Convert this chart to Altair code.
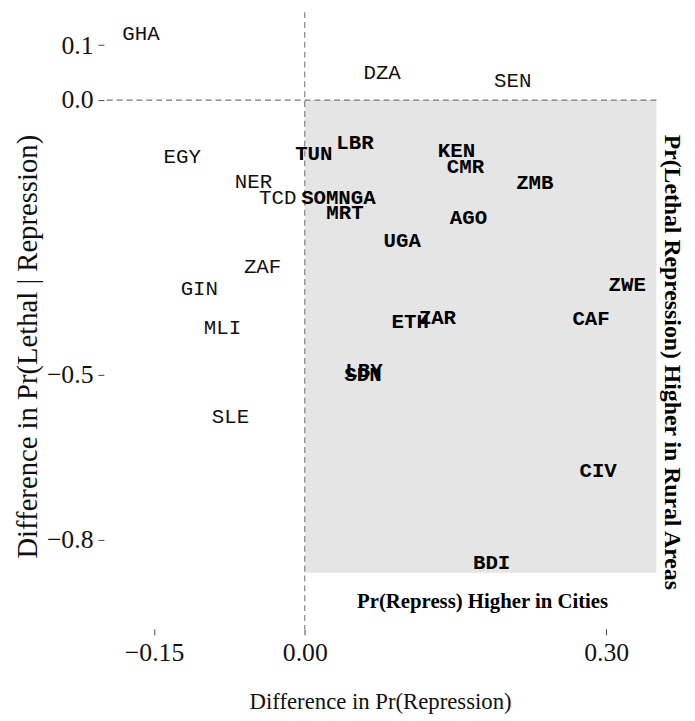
import altair as alt
import pandas as pd

countries = ["GHA", "DZA", "SEN", "EGY", "TUN", "LBR", "KEN", "CMR", "ZMB", "NER",
             "TCD", "SOM", "NGA", "MRT", "AGO", "UGA", "ZAF", "ZWE", "GIN", "ETH",
             "ZAR", "CAF", "MLI", "LBY", "SDN", "SLE", "CIV", "BDI"]
diff_repress = [-0.163, 0.077, 0.207, -0.122, 0.009, 0.050, 0.151, 0.160, 0.229, -0.051,
                -0.027, 0.015, 0.052, 0.040, 0.163, 0.097, -0.042, 0.321, -0.105, 0.105,
                0.132, 0.285, -0.082, 0.059, 0.058, -0.074, 0.292, 0.186]
diff_lethal = [0.120, 0.049, 0.034, -0.104, -0.099, -0.079, -0.092, -0.122, -0.151, -0.149,
               -0.178, -0.178, -0.178, -0.205, -0.214, -0.257, -0.304, -0.336, -0.344, -0.403,
               -0.396, -0.399, -0.414, -0.493, -0.500, -0.576, -0.675, -0.842]

x_ticks = [-0.15, 0.0, 0.30]
y_ticks = [0.1, 0.0, -0.5, -0.8]
x_domain = [-0.2, 0.35]
y_domain = [-0.962, 0.160]

rect_x = [0.0, 0.35]
rect_y = [-0.86, 0.0]

note_bottom = "Pr(Repress) Higher in Cities"
note_bottom_pos = [0.177, -0.914]
note_right = "Pr(Lethal Repression) Higher in Rural Areas"
note_right_pos = [0.365, -0.477]

df = pd.DataFrame({"country": countries, "x": diff_repress, "y": diff_lethal})
df["quad"] = [(a > 0 and b < 0) for a, b in zip(diff_repress, diff_lethal)]

xs = alt.Scale(domain=x_domain, nice=False, zero=False)
ys = alt.Scale(domain=y_domain, nice=False, zero=False)

serif = "Liberation Serif"
mono = "Liberation Mono"

rect = alt.Chart(pd.DataFrame({"x1": [rect_x[0]], "x2": [rect_x[1]],
                               "y1": [rect_y[0]], "y2": [rect_y[1]]})).mark_rect(
    color="#e5e5e5").encode(
    x=alt.X("x1:Q", scale=xs,
            axis=alt.Axis(values=x_ticks, title="Difference in Pr(Repression)",
                          labelExpr="replace(format(datum.value, '.2f'), '-', '–')",
                          grid=False, domain=False, tickSize=6, tickColor="#444",
                          labelFont=serif, labelFontSize=26, labelColor="#111",
                          labelPadding=5, titleFont=serif, titleFontSize=23,
                          titleFontWeight="normal", titleColor="#111", titlePadding=26)),
    x2="x2:Q",
    y=alt.Y("y1:Q", scale=ys,
            axis=alt.Axis(values=y_ticks, title="Difference in Pr(Lethal | Repression)",
                          labelExpr="replace(format(datum.value, '.1f'), '-', '–')",
                          grid=False, domain=False, tickSize=6, tickColor="#444",
                          labelFont=serif, labelFontSize=26, labelColor="#111",
                          labelPadding=5, titleFont=serif, titleFontSize=29,
                          titleFontWeight="normal", titleColor="#111", titlePadding=4,
                          titleY=338)),
    y2="y2:Q",
)

vline = alt.Chart(pd.DataFrame({"x": [0.0]})).mark_rule(
    strokeDash=[6, 4], color="#777", strokeWidth=1.1).encode(x=alt.X("x:Q", scale=xs))
hline = alt.Chart(pd.DataFrame({"y": [0.0]})).mark_rule(
    strokeDash=[6, 4], color="#777", strokeWidth=1.1).encode(y=alt.Y("y:Q", scale=ys))

base = alt.Chart(df).encode(
    x=alt.X("x:Q", scale=xs), y=alt.Y("y:Q", scale=ys), text="country:N")
plain = base.transform_filter("!datum.quad").mark_text(
    font=mono, fontSize=21, color="#111", align="center", baseline="middle")
bold = base.transform_filter("datum.quad").mark_text(
    font=mono, fontSize=21, fontWeight="bold", color="#000",
    align="center", baseline="middle")

nb = alt.Chart(pd.DataFrame({"x": [note_bottom_pos[0]], "y": [note_bottom_pos[1]],
                             "t": [note_bottom]})).mark_text(
    font=serif, fontSize=21, fontWeight="bold", color="#000", baseline="middle").encode(
    x=alt.X("x:Q", scale=xs), y=alt.Y("y:Q", scale=ys), text="t:N")
nr = alt.Chart(pd.DataFrame({"x": [note_right_pos[0]], "y": [note_right_pos[1]],
                             "t": [note_right]})).mark_text(
    font=serif, fontSize=24, fontWeight="bold", color="#000", angle=90,
    baseline="middle").encode(
    x=alt.X("x:Q", scale=xs), y=alt.Y("y:Q", scale=ys), text="t:N")

chart = alt.layer(rect, vline, hline, plain, bold, nb, nr).properties(
    width=559, height=624,
    autosize=alt.AutoSizeParams(type="none"),
    padding={"left": 97, "top": 0, "right": 31, "bottom": 88},
).configure_view(stroke=None, clip=False)

chart.save("out.html", embed_options={"renderer": "svg", "actions": False})
